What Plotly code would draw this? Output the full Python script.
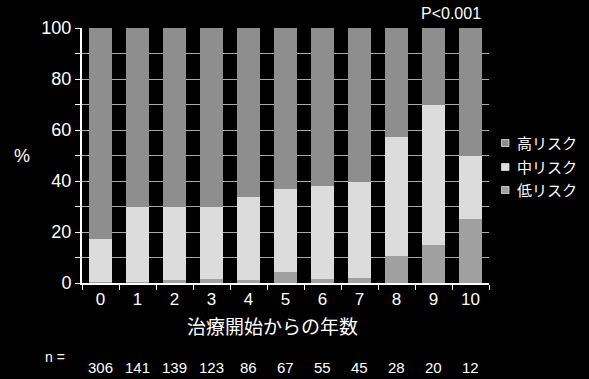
import plotly.graph_objects as go

years = ["0", "1", "2", "3", "4", "5", "6", "7", "8", "9", "10"]
low = [0.4, 0.4, 1.0, 1.6, 1.0, 4.4, 1.5, 2.1, 10.5, 14.8, 25.0]
mid = [16.7, 29.5, 29.0, 28.4, 32.6, 32.5, 36.5, 37.5, 46.9, 55.0, 25.0]
high = [100 - l - m for l, m in zip(low, mid)]
n_values = [306, 141, 139, 123, 86, 67, 55, 45, 28, 20, 12]
series_names = ["低リスク", "中リスク", "高リスク"]
series_colors = ["#a0a0a0", "#dcdcdc", "#8e8e8e"]

JP = "Liberation Sans, Noto Sans CJK JP, sans-serif"

fig = go.Figure()
for name, vals, col in zip(series_names, [low, mid, high], series_colors):
    fig.add_trace(go.Bar(x=years, y=vals, name=name, marker=dict(color=col, line=dict(width=0))))

fig.update_layout(
    width=589, height=379,
    barmode="stack", bargap=0.4,
    paper_bgcolor="black", plot_bgcolor="black",
    margin=dict(l=82, r=100, t=28, b=96, autoexpand=False),
    font=dict(family=JP, color="white", size=15),
    showlegend=False,
)
fig.update_yaxes(range=[0, 100], tickvals=list(range(0, 101, 10)),
                 ticktext=[str(v) if v % 20 == 0 else "" for v in range(0, 101, 10)],
                 showgrid=True, gridcolor="#a8a8a8", gridwidth=1,
                 showline=True, linecolor="white", linewidth=2,
                 ticks="outside", ticklen=5, tickcolor="white", tickwidth=1,
                 tickfont=dict(size=18, color="white"), zeroline=False)
fig.update_xaxes(type="category", showline=True, linecolor="white", linewidth=2,
                 ticks="outside", tickson="boundaries", ticklen=5, tickcolor="white",
                 tickfont=dict(size=17, color="white"), showgrid=False)

ann = [
    dict(text="治療開始からの年数", x=0.468, y=-0.175, xref="paper", yref="paper",
         showarrow=False, font=dict(size=19, color="white"), xanchor="center", yanchor="middle"),
    dict(text="%", x=-0.147, y=0.5, xref="paper", yref="paper",
         showarrow=False, font=dict(size=18, color="white"), xanchor="center", yanchor="middle"),
    dict(text="P<0.001", x=0.985, y=1.055, xref="paper", yref="paper",
         showarrow=False, font=dict(size=16, color="white"), xanchor="right", yanchor="middle"),
    dict(text="n =", x=-0.066, y=-0.29, xref="paper", yref="paper",
         showarrow=False, font=dict(size=14, color="white"), xanchor="center", yanchor="middle"),
]
for yr, n in zip(years, n_values):
    ann.append(dict(text=str(n), x=yr, y=-0.33, xref="x", yref="paper", showarrow=False,
                    font=dict(size=15, color="white"), xanchor="center", yanchor="middle"))

# manual legend (top to bottom: high, mid, low)
plot_w, plot_h, left, top_ = 407.0, 255.0, 82.0, 28.0
def px(xp):
    return (xp - left) / plot_w
def py(yp):
    return (top_ + plot_h - yp) / plot_h
shapes = []
for i, (name, col) in enumerate(zip(series_names[::-1], series_colors[::-1])):
    yc = [143, 167, 190][i]
    shapes.append(dict(type="rect", xref="paper", yref="paper",
                       x0=px(501.5), x1=px(509), y0=py(yc + 3.5), y1=py(yc - 3.5),
                       fillcolor=col, line=dict(color="#e0e0e0", width=0.8)))
    ann.append(dict(text=name, x=px(515), y=py(yc), xref="paper", yref="paper", showarrow=False,
                    font=dict(size=15, color="white"), xanchor="left", yanchor="middle"))
fig.update_layout(annotations=ann, shapes=shapes)

fig.write_html("out.html")
